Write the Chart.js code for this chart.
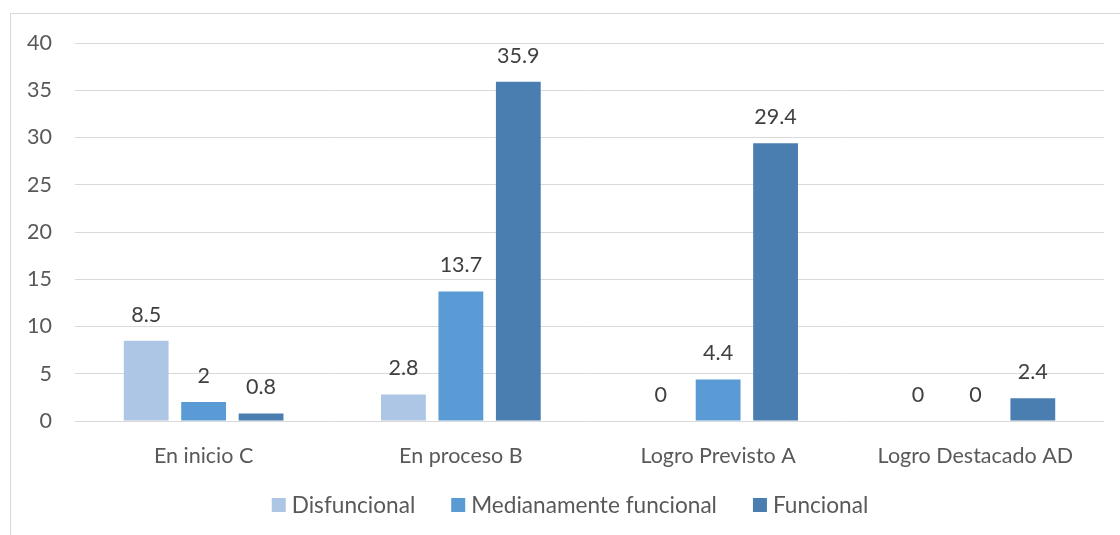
<!DOCTYPE html>
<html>
<head>
<meta charset="utf-8">
<script src="https://cdn.jsdelivr.net/npm/chart.js@4"></script>
<style>
  html, body { margin: 0; padding: 0; background: #fff; }
  #wrap { position: relative; width: 1120px; height: 535px; }
  #frame { position: absolute; left: 10px; top: 13px; width: 1200px; height: 600px; border: 1px solid #d9d9d9; box-sizing: border-box; }
  canvas { position: absolute; left: 0; top: 0; }
</style>
</head>
<body>
<div id="wrap">
  <div id="frame"></div>
  <canvas id="chart" width="1120" height="535"></canvas>
</div>
<script>
const categories = ["En inicio C", "En proceso B", "Logro Previsto A", "Logro Destacado AD"];
const disfuncional = [8.5, 2.8, 0, 0];
const medianamente = [2, 13.7, 4.4, 0];
const funcional = [0.8, 35.9, 29.4, 2.4];
const seriesNames = ["Disfuncional", "Medianamente funcional", "Funcional"];
const colors = ["#adc6e6", "#5b9bd5", "#4a7eb1"];

const font = "Lato, 'Open Sans', sans-serif";

// etiquetas de valor encima de cada barra
const valueLabels = {
  id: "valueLabels",
  afterDatasetsDraw(chart) {
    const ctx = chart.ctx;
    ctx.save();
    ctx.font = "21.5px " + font;
    ctx.fillStyle = "#404040";
    ctx.textAlign = "center";
    ctx.textBaseline = "middle";
    chart.data.datasets.forEach((ds, i) => {
      chart.getDatasetMeta(i).data.forEach((bar, j) => {
        ctx.fillText(String(ds.data[j]), bar.x, bar.y - 26);
      });
    });
    ctx.restore();
  }
};

// leyenda dibujada a mano (espaciado como el original)
const bottomLegend = {
  id: "bottomLegend",
  afterDraw(chart) {
    const ctx = chart.ctx;
    const y = 505, box = 14, gapText = 6, gapItem = 36;
    ctx.save();
    ctx.font = "22.6px " + font;
    ctx.textBaseline = "middle";
    const items = chart.data.datasets.map(ds => ({ text: ds.label, color: ds.backgroundColor, w: ctx.measureText(ds.label).width }));
    const total = items.reduce((s, it) => s + box + gapText + it.w, 0) + gapItem * (items.length - 1);
    let x = 570 - total / 2;
    items.forEach(it => {
      ctx.fillStyle = it.color;
      ctx.fillRect(x, y - box / 2, box, box);
      x += box + gapText;
      ctx.fillStyle = "#595959";
      ctx.fillText(it.text, x, y + 1);
      x += it.w + gapItem;
    });
    ctx.restore();
  }
};

new Chart(document.getElementById("chart"), {
  type: "bar",
  data: {
    labels: categories,
    datasets: [
      { label: seriesNames[0], data: disfuncional, backgroundColor: colors[0] },
      { label: seriesNames[1], data: medianamente, backgroundColor: colors[1] },
      { label: seriesNames[2], data: funcional, backgroundColor: colors[2] }
    ]
  },
  options: {
    responsive: false,
    animation: false,
    categoryPercentage: 0.67,
    barPercentage: 0.78,
    layout: { padding: { left: 10, right: 16, top: 43, bottom: 62 } },
    scales: {
      x: {
        grid: { display: false },
        border: { display: false },
        ticks: { color: "#595959", font: { family: font, size: 21.5 }, padding: 14 },
        afterFit(s) { s.height = 52; }
      },
      y: {
        min: 0, max: 40,
        ticks: { stepSize: 5, color: "#595959", font: { family: font, size: 21.5 }, padding: 23 },
        grid: { color: "#d9d9d9", drawTicks: false },
        border: { display: false },
        afterFit(s) { s.width = 65; }
      }
    },
    plugins: {
      legend: { display: false },
      tooltip: { enabled: false }
    }
  },
  plugins: [valueLabels, bottomLegend]
});
</script>
</body>
</html>
